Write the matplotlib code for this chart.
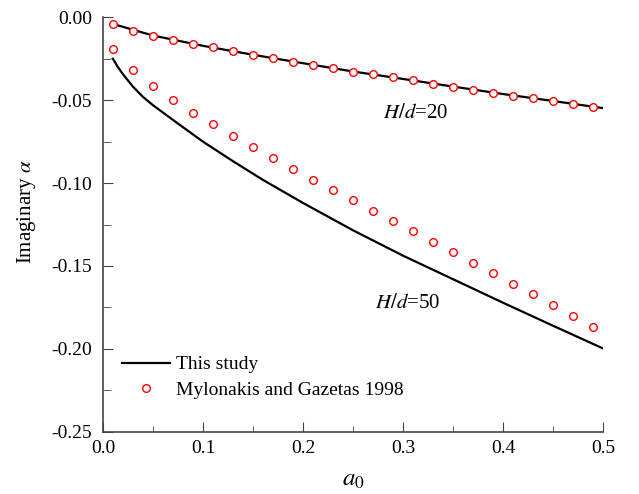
import numpy as np
import matplotlib
matplotlib.use("Agg")
import matplotlib.pyplot as plt
from matplotlib.ticker import MultipleLocator, FormatStrFormatter

plt.rcParams['font.family'] = 'Liberation Serif'
plt.rcParams['mathtext.fontset'] = 'stix'
plt.rcParams['axes.unicode_minus'] = False

# Mylonakis and Gazetas 1998 (markers)
a0_pts = [0.01, 0.03, 0.05, 0.07, 0.09, 0.11, 0.13, 0.15, 0.17, 0.19, 0.21, 0.23, 0.25,
          0.27, 0.29, 0.31, 0.33, 0.35, 0.37, 0.39, 0.41, 0.43, 0.45, 0.47, 0.49]
mg_20 = [-0.0041, -0.0082, -0.0110, -0.0137, -0.0160, -0.0182, -0.0205, -0.0226, -0.0246,
         -0.0267, -0.0287, -0.0307, -0.0327, -0.0345, -0.0363, -0.0381, -0.0400, -0.0419,
         -0.0436, -0.0454, -0.0472, -0.0488, -0.0504, -0.0521, -0.0539]
mg_50 = [-0.0190, -0.0319, -0.0416, -0.0498, -0.0575, -0.0645, -0.0716, -0.0782, -0.0848,
         -0.0915, -0.0979, -0.1042, -0.1104, -0.1166, -0.1229, -0.1291, -0.1354, -0.1418,
         -0.1481, -0.1545, -0.1609, -0.1671, -0.1736, -0.1803, -0.1869]

# this study (lines)
a0_20 = [0.01, 0.05, 0.10, 0.15, 0.20, 0.25, 0.30, 0.35, 0.40, 0.45, 0.50]
ts_20 = [-0.0040, -0.0110, -0.0172, -0.0226, -0.0277, -0.0327, -0.0372, -0.0418,
         -0.0463, -0.0505, -0.0548]
a0_50 = [0.01, 0.015, 0.02, 0.03, 0.04, 0.05, 0.075, 0.10, 0.13, 0.16, 0.20, 0.25,
         0.30, 0.35, 0.40, 0.45, 0.50]
ts_50 = [-0.0250, -0.0300, -0.0343, -0.0418, -0.0480, -0.0530, -0.0641, -0.0750,
         -0.0868, -0.0981, -0.1120, -0.1285, -0.1438, -0.1580, -0.1722, -0.1861, -0.1998]

fig = plt.figure(figsize=(6.39, 4.94), dpi=100)
ax = fig.add_axes([0.161, 0.126, 0.783, 0.839])

ax.plot(a0_20, ts_20, color='black', lw=1.6, label='This study')
ax.plot(a0_50, ts_50, color='black', lw=1.6)
ax.plot(a0_pts, mg_20, 'o', ms=5.5, mfc='white', mec='red', mew=1.0,
        label='Mylonakis and Gazetas 1998')
ax.plot(a0_pts, mg_50, 'o', ms=5.5, mfc='white', mec='red', mew=1.0)

ax.text(0.28, -0.058, r'$H/d$=20', fontsize=15, va='center', ha='left')
ax.text(0.272, -0.1727, r'$H/d$=50', fontsize=15, va='center', ha='left')

ax.set_xlim(0, 0.5)
ax.set_ylim(-0.25, 0.0)
ax.xaxis.set_major_locator(MultipleLocator(0.1))
ax.xaxis.set_minor_locator(MultipleLocator(0.05))
ax.yaxis.set_major_locator(MultipleLocator(0.05))
ax.yaxis.set_minor_locator(MultipleLocator(0.025))
ax.xaxis.set_major_formatter(FormatStrFormatter('%.1f'))
ax.yaxis.set_major_formatter(FormatStrFormatter('%.2f'))

ax.tick_params(axis='both', which='both', direction='in', labelsize=14, color='#444444')
ax.tick_params(axis='both', which='major', length=7)
ax.tick_params(axis='y', which='minor', length=6)
ax.tick_params(axis='x', which='minor', length=4)
ax.tick_params(axis='x', which='major', pad=6)
ax.tick_params(axis='y', which='major', pad=8)

for s in ['top', 'right']:
    ax.spines[s].set_visible(False)
for s in ['left', 'bottom']:
    ax.spines[s].set_color('#444444')
    ax.spines[s].set_linewidth(1.2)

ax.set_xlabel(r'$a_0$', fontsize=18)
ax.set_ylabel(r'Imaginary $\alpha$', fontsize=15)
ax.xaxis.set_label_coords(0.5, -0.09)
ax.yaxis.set_label_coords(-0.13, 0.53)

ax.legend(loc='lower left', bbox_to_anchor=(0.022, 0.06), frameon=False, fontsize=14,
          handlelength=2.5, handletextpad=0.3, labelspacing=0.42, borderaxespad=0.0)

fig.savefig('out.png', dpi=100)
